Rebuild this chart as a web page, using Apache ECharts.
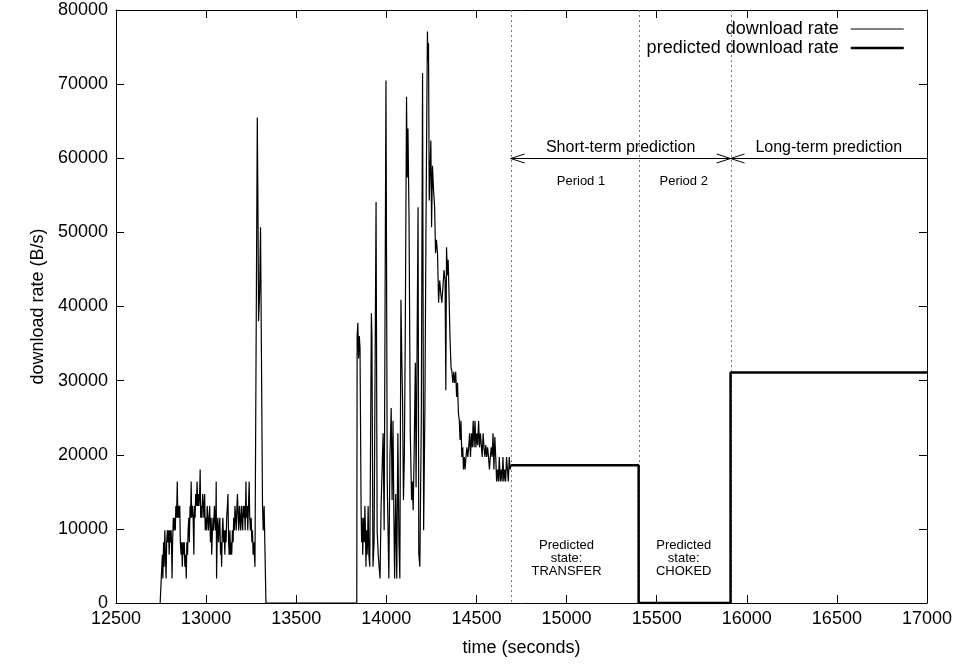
<!DOCTYPE html>
<html>
<head>
<meta charset="utf-8">
<script src="https://cdn.jsdelivr.net/npm/echarts@6/dist/echarts.min.js"></script>
<style>
  html, body { margin: 0; padding: 0; background: #fff; }
  #chart { width: 957px; height: 666px; }
</style>
</head>
<body>
<div id="chart"></div>
<script>
// measured download rate, [time (s), rate (B/s)]
const burst1 = [
  [12745,0],[12757,6500],[12760,3300],[12764,8200],[12767,4900],[12771,9800],[12774,6500],[12778,3300],
  [12781,8200],[12785,9800],[12788,8200],[12792,9800],[12795,6500],[12799,9800],[12802,8200],[12806,9800],
  [12809,6500],[12811,3300],[12814,8200],[12818,11500],[12821,9800],[12825,11500],[12829,9800],[12832,13100],
  [12836,11500],[12840,16400],[12843,11500],[12847,13100],[12850,11500],[12854,13100],[12857,8200],[12861,6500],
  [12864,8200],[12868,4900],[12872,8200],[12875,6500],[12879,8200],[12882,4900],[12886,6500],[12890,3300],
  [12893,8200],[12897,6500],[12900,9800],[12904,11500],[12907,8200],[12911,13100],[12914,11500],[12917,16400],
  [12920,11500],[12924,13100],[12928,11500],[12932,6500],[12935,13100],[12939,11500],[12942,14700],[12946,13100],
  [12950,16400],[12953,13100],[12957,14700],[12960,13100],[12964,14700],[12967,18000],[12970,11500],[12974,13100],
  [12977,11500],[12981,14700],[12985,13100],[12988,11500],[12992,14700],[12995,9800],[12999,11500],[13003,9800],
  [13006,13100],[13010,11500],[13013,9800],[13017,11500],[13020,13100],[13024,8200],[13028,11500],[13031,6500],
  [13035,9800],[13039,11500],[13042,9800],[13046,13100],[13049,11500],[13053,9800],[13056,16400],[13058,3300],
  [13062,9800],[13065,11500],[13069,8200],[13072,9800],[13076,11500],[13080,6500],[13083,8200],[13086,4900],
  [13090,9800],[13093,11500],[13097,8200],[13100,9800],[13104,6500],[13107,9800],[13111,8200],[13114,11500],
  [13118,13100],[13121,14700],[13125,8200],[13128,6500],[13132,9800],[13135,6500],[13139,8200],[13142,6500],
  [13146,9800],[13150,8200],[13153,11500],[13157,9800],[13160,13100],[13164,11500],[13167,9800],[13171,13100],
  [13174,14700],[13178,11500],[13181,9800],[13185,13100],[13188,11500],[13192,9800],[13196,13100],[13199,11500],
  [13203,9800],[13206,13100],[13210,11500],[13213,13100],[13217,9800],[13221,16400],[13224,11500],[13228,13100],
  [13231,9800],[13235,13100],[13239,16400],[13242,11500],[13246,9800],[13250,11500],[13254,8200],[13257,9800],
  [13261,6500],[13265,8200],[13271,4900],[13284,65500],[13288,52000],[13291,38000],[13297,42000],[13302,50700],
  [13313,13100],[13317,9800],[13322,13100],[13332,0]
];
const burst2 = [
  [13836,0],[13838,36000],[13842,37800],[13846,33000],[13850,36000],[13854,34400],[13860,12500],[13863,8200],
  [13866,11500],[13869,6500],[13872,9800],[13875,11500],[13878,8200],[13881,13100],[13884,9800],[13887,4900],
  [13890,9800],[13893,6500],[13896,8200],[13899,13100],[13903,6500],[13908,4900],[13917,39100],[13920,36000],
  [13926,4900],[13932,8200],[13943,54100],[13949,9800],[13955,6500],[13965,3300],[13971,13100],[13982,22900],
  [13988,9800],[13998,70500],[14005,16400],[14014,3300],[14020,19700],[14027,26300],[14032,13900],[14037,24600],
  [14042,11500],[14046,3300],[14052,14700],[14058,3300],[14064,22900],[14070,8200],[14075,3300],[14081,40900],
  [14086,32800],[14090,27400],[14095,13900],[14100,19700],[14105,36000],[14112,68300],[14116,57400],[14120,64000],
  [14126,51700],[14133,22900],[14140,13900],[14144,16400],[14149,12500],[14154,19700],[14161,32400],[14165,15600],
  [14171,36000],[14176,53400],[14180,6700],[14186,4900],[14194,24600],[14201,71500],[14207,9800],[14214,26300],
  [14220,50700],[14228,77100],[14231,73000],[14234,75500],[14238,54300],[14243,58800],[14247,62400],[14251,50700],
  [14256,59000],[14262,55700],[14268,53400],[14273,47200],[14278,49000],[14284,47200],[14290,40500],[14296,43500],
  [14302,41800],[14308,40500],[14314,42600],[14320,44900],[14326,43500],[14330,28700],[14334,48000],[14339,44200],
  [14343,46300],[14347,42600],[14353,36000],[14359,31800],[14364,31200],[14369,29700],[14374,31200],[14379,29700],
  [14385,31200],[14390,27800],[14395,29700],[14400,25600],[14405,24600],[14409,22000],[14414,24600],[14419,19700],
  [14424,21000],[14428,18000],[14433,19700],[14437,18000],[14442,19700],[14447,21000],[14452,19700],[14457,21000],
  [14462,22900],[14467,19700],[14472,22900],[14477,21000],[14482,24600],[14487,21000],[14492,24600],[14497,21000],
  [14502,22900],[14507,21300],[14512,24600],[14517,21000],[14522,22900],[14527,21300],[14532,19700],[14537,22900],
  [14542,21000],[14547,19700],[14552,21300],[14557,19700],[14562,21000],[14567,19700],[14572,18000],[14577,19700],
  [14582,21000],[14587,19700],[14592,22900],[14597,18000],[14602,22400],[14607,19700],[14612,16400],[14617,18000],
  [14622,16400],[14627,19700],[14632,16400],[14637,18000],[14642,16400],[14647,19700],[14652,16400],[14657,18000],
  [14662,16400],[14667,19700],[14672,18000],[14677,16400],[14682,19700],[14687,18000],[14690,18600]
];

// predicted rate, step shaped
const predictedTimes = [14690, 15400, 15400, 15910, 15910, 17000];
const predictedRates = [18600, 18600, 0, 0, 31100, 31100];

// phase boundaries (dotted verticals)
const phaseBounds = [14690, 15400, 15910];
const arrowLevel = 60000;

const FONT = '"Liberation Sans", Arial, Helvetica, sans-serif';

const chart = echarts.init(document.getElementById('chart'));

const axisCommon = {
  type: 'value',
  axisLine: { show: true, onZero: false, lineStyle: { color: '#000', width: 1 } },
  axisTick: { show: true, inside: true, length: 8, lineStyle: { color: '#000', width: 1 } },
  splitLine: { show: false }
};
const plain = v => String(v);

const option = {
  animation: false,
  backgroundColor: '#fff',
  grid: { left: 116, right: 30, top: 10, bottom: 63 },
  legend: {
    orient: 'vertical',
    right: 52,
    top: 20,
    align: 'right',
    padding: 0,
    itemWidth: 53,
    itemHeight: 14,
    itemGap: 1,
    itemStyle: { opacity: 0 },
    textStyle: { fontSize: 18, fontFamily: FONT, color: '#000', padding: [0, 7, 0, 0] },
    data: [
      { name: 'download rate', lineStyle: { width: 1, color: '#000' } },
      { name: 'predicted download rate', lineStyle: { width: 2.5, color: '#000' } }
    ]
  },
  xAxis: [
    Object.assign({}, axisCommon, {
      position: 'bottom', min: 12500, max: 17000, interval: 500,
      name: 'time (seconds)', nameLocation: 'middle', nameGap: 36,
      nameTextStyle: { fontSize: 18, fontFamily: FONT, color: '#000' },
      axisLabel: { fontSize: 18, fontFamily: FONT, color: '#000', margin: 7, formatter: plain }
    }),
    Object.assign({}, axisCommon, {
      position: 'top', min: 12500, max: 17000, interval: 500,
      axisLabel: { show: false }
    })
  ],
  yAxis: [
    Object.assign({}, axisCommon, {
      position: 'left', min: 0, max: 80000, interval: 10000,
      name: 'download rate (B/s)', nameLocation: 'middle', nameGap: 66,
      nameTextStyle: { fontSize: 18, fontFamily: FONT, color: '#000' },
      axisLabel: { fontSize: 18, fontFamily: FONT, color: '#000', margin: 8, formatter: plain }
    }),
    Object.assign({}, axisCommon, {
      position: 'right', min: 0, max: 80000, interval: 10000,
      axisLabel: { show: false }
    })
  ],
  series: [
    {
      name: 'download rate',
      type: 'line',
      data: burst1.concat(burst2),
      symbol: 'none',
      color: '#000',
      lineStyle: { color: '#000', width: 1.2 },
      z: 3
    },
    {
      name: 'predicted download rate',
      type: 'line',
      data: predictedTimes.map((t, i) => [t, predictedRates[i]]),
      symbol: 'none',
      color: '#000',
      lineStyle: { color: '#000', width: 2.5 },
      z: 4
    }
  ]
};

chart.setOption(option);

// annotations, placed through the chart's own scales
const px = (t, v) => chart.convertToPixel({ xAxisIndex: 0, yAxisIndex: 0 }, [t, v]);
const g = [];
const plotTop = px(12500, 80000)[1];
const plotBottom = px(12500, 0)[1];

phaseBounds.forEach(b => {
  const x = Math.round(px(b, 0)[0]) + 0.5;
  g.push({
    type: 'line', z: 1,
    shape: { x1: x, y1: plotTop, x2: x, y2: plotBottom },
    style: { stroke: '#777', lineWidth: 1, lineDash: [2, 3] }
  });
});

const ay = Math.round(px(12500, arrowLevel)[1]) + 0.5;
const a0 = px(phaseBounds[0], 0)[0];
const a1 = px(phaseBounds[2], 0)[0];
const a2 = px(17000, 0)[0];
const arrowStyle = { stroke: '#000', lineWidth: 1, fill: null };
g.push({ type: 'line', z: 5, shape: { x1: a0, y1: ay, x2: a2, y2: ay }, style: arrowStyle });
[[a0, 1], [a1, -1], [a1, 1]].forEach(([x, d]) => {
  g.push({
    type: 'polyline', z: 5,
    shape: { points: [[x + d * 14, ay - 4.5], [x, ay], [x + d * 14, ay + 4.5]] },
    style: arrowStyle
  });
});

const label = (text, t, v, size, extra) => {
  const p = px(t, v);
  g.push({
    type: 'text', z: 6,
    style: Object.assign({
      text, x: p[0], y: p[1], align: 'center', verticalAlign: 'middle',
      fontSize: size, fontFamily: FONT, fill: '#000'
    }, extra || {})
  });
};
label('Short-term prediction', 15300, 61500, 16);
label('Long-term prediction', 16455, 61500, 16);
label('Period 1', 15080, 56900, 13);
label('Period 2', 15650, 56900, 13);
label('Predicted\nstate:\nTRANSFER', 15000, 6000, 13, { lineHeight: 13 });
label('Predicted\nstate:\nCHOKED', 15650, 6000, 13, { lineHeight: 13 });

chart.setOption({ graphic: g });
</script>
</body>
</html>
